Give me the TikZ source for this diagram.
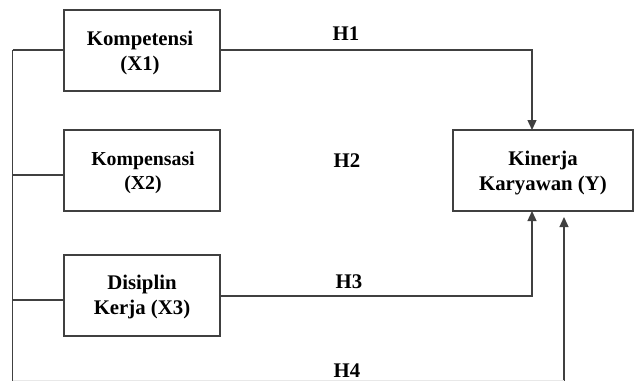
\documentclass[tikz,border=0pt]{standalone}
\usepackage{fontspec}
\setmainfont{Liberation Serif}
\usetikzlibrary{arrows.meta}
\definecolor{ln}{gray}{0.25}
\tikzset{
  varbox/.style={draw=ln, line width=1.3pt, minimum width=156pt, minimum height=81pt,
    inner sep=0pt},
  boxtext/.style={inner sep=0pt, align=center, font=\fontsize{20.8}{25}\selectfont\bfseries},
  hlabel/.style={inner sep=0pt, font=\fontsize{20.8}{24}\selectfont\bfseries},
  conn/.style={draw=ln, line width=1.3pt},
  arr/.style={conn, -{Triangle[length=10pt,width=9pt]}}
}
\begin{document}
\begin{tikzpicture}[x=1pt,y=-1pt]
\useasboundingbox (0,0) rectangle (635,381);
% boxes
\node[varbox] (x1) at (142,50.5) {};
\node[boxtext] (x1t) at (140,53) {Kompetensi\\(X1)};
\node[varbox] (x2) at (142,170.5) {};
\node[boxtext, font=\fontsize{19.8}{24}\selectfont\bfseries] (x2t) at (143,172.5) {Kompensasi\\(X2)};
\node[varbox] (x3) at (142,295.5) {};
\node[boxtext] (x3t) at (142,297) {Disiplin\\Kerja (X3)};
\node[varbox, minimum width=180pt] (y) at (543,170.5) {};
\node[boxtext] (yt) at (543,173) {Kinerja\\Karyawan (Y)};
% coordinates
\coordinate (l1) at (12.5,50);
\coordinate (l2) at (12.5,175);
\coordinate (l3) at (12.5,300);
\coordinate (lb) at (12.5,381);
\coordinate (c1) at (532,50);
\coordinate (c3) at (532,296);
\coordinate (t1) at (532,130);
\coordinate (t3) at (532,211);
\coordinate (h4b) at (564,381);
\coordinate (h4t) at (564,217);
% left bus
\draw[conn] (l1) -- (lb);
\draw[conn] (l1) -- (x1.west |- l1);
\draw[conn] (l2) -- (x2.west |- l2);
\draw[conn] (l3) -- (x3.west |- l3);
% arrows
\draw[arr] (x1.east |- c1) -- (c1) -- (t1);
\draw[arr] (x3.east |- c3) -- (c3) -- (t3);
\draw[arr] (h4b) -- (h4t);
% faint bottom edge
\draw[gray!18, line width=0.6pt] (12.5,380.6) -- (564,380.6);
% labels
\node[hlabel] (h1) at (346,34) {H1};
\node[hlabel] (h2) at (347,161) {H2};
\node[hlabel] (h3) at (349,281.5) {H3};
\node[hlabel] (h4) at (347,371) {H4};
\end{tikzpicture}
\end{document}
